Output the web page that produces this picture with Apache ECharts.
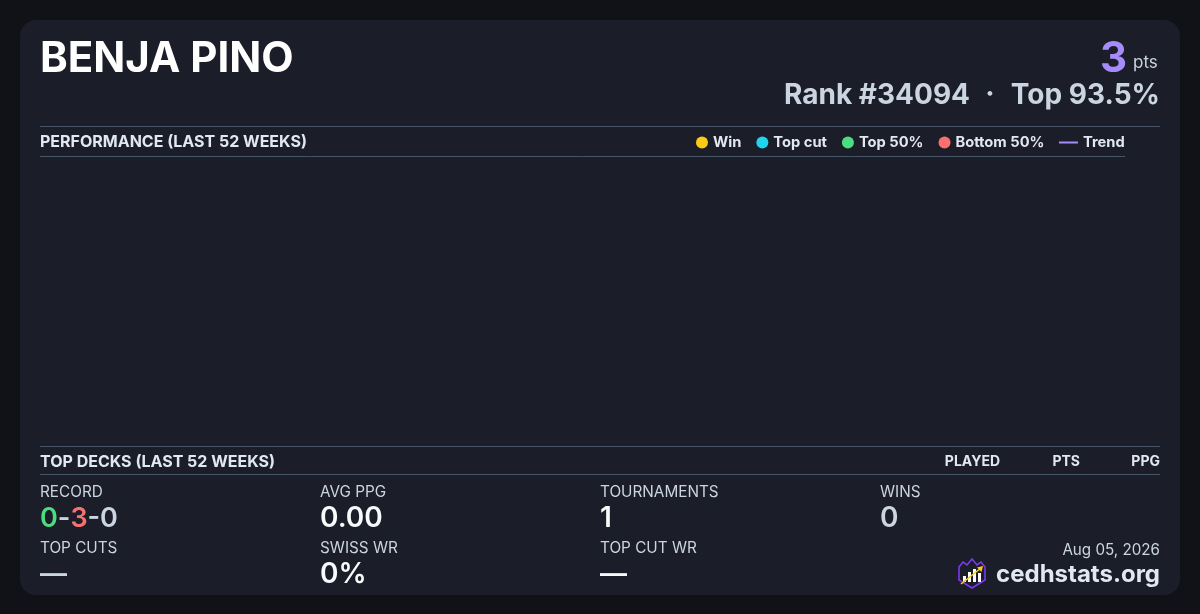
<!DOCTYPE html>
<html>
<head>
<meta charset="utf-8">
<script src="https://cdn.jsdelivr.net/npm/echarts@6/dist/echarts.min.js"></script>
<style>
html,body{margin:0;padding:0;background:#111217;}
#c{width:1200px;height:614px;}
</style>
</head>
<body>
<div id="c"></div>
<script>
// ---- data ----
const playerName = 'BENJA PINO';
const points = 3;
const rank = 34094;
const topPercent = '93.5%';
const legendCategories = ['Win', 'Top cut', 'Top 50%', 'Bottom 50%'];
const categoryColors = ['#facc15', '#22d3ee', '#4ade80', '#f87171'];
const trendColor = '#a78bfa';
const winPoints = [];
const topCutPoints = [];
const top50Points = [];
const bottom50Points = [];
const trendPoints = [];
const deckColumns = ['PLAYED', 'PTS', 'PPG'];
const recordWins = 0, recordLosses = 3, recordDraws = 0;
const statLabels = ['RECORD', 'AVG PPG', 'TOURNAMENTS', 'WINS', 'TOP CUTS', 'SWISS WR', 'TOP CUT WR'];
const avgPpg = '0.00';
const tournaments = '1';
const wins = '0';
const topCuts = '—';
const swissWr = '0%';
const topCutWr = '—';
const dateText = 'Aug 05, 2026';
const siteText = 'cedhstats.org';

const FONT = 'Inter, "Noto Sans", sans-serif';
const LINE = '#475569';
const LIGHT = '#e2e8f0';
const GRAY = '#cbd5e1';
const WHITE = '#f8fafc';

const chart = echarts.init(document.getElementById('c'), null, {renderer: 'canvas'});

function txt(x, y, text, size, weight, color, align) {
  return {type: 'text', x: x, y: y, silent: true,
    style: {text: text, font: weight + ' ' + size + 'px ' + FONT, fill: color,
      align: align || 'left', verticalAlign: 'middle'}};
}
function hline(x1, x2, y) {
  return {type: 'line', silent: true, shape: {x1: x1, y1: y, x2: x2, y2: y},
    style: {stroke: LINE, lineWidth: 1}};
}

const graphics = [
  {type: 'rect', z: -10, silent: true, shape: {x: 20, y: 20, width: 1160, height: 575, r: 16}, style: {fill: '#1b1d29'}},
  txt(40, 59, playerName, 42, 700, '#ffffff'),
  txt(1127, 59, String(points), 42, 700, trendColor, 'right'),
  txt(1133, 63, 'pts', 17, 400, GRAY),
  txt(1160, 96, 'Top ' + topPercent, 28, 700, GRAY, 'right'),
  txt(990, 95, '·', 28, 700, GRAY, 'center'),
  txt(970, 96, 'Rank #' + rank, 28, 700, GRAY, 'right'),
  hline(40, 1160, 126.5),
  txt(40, 142, 'PERFORMANCE (LAST 52 WEEKS)', 16, 700, LIGHT),
  hline(40, 1125, 156.5),
  hline(40, 1160, 446.5),
  txt(40, 462, 'TOP DECKS (LAST 52 WEEKS)', 16, 700, LIGHT),
  txt(1000, 462, deckColumns[0], 14, 700, LIGHT, 'right'),
  txt(1080, 462, deckColumns[1], 14, 700, LIGHT, 'right'),
  txt(1160, 462, deckColumns[2], 14, 700, LIGHT, 'right'),
  hline(40, 1160, 474.5),
  txt(40, 492, statLabels[0], 15.3, 400, GRAY),
  txt(320, 492, statLabels[1], 15.3, 400, GRAY),
  txt(600, 492, statLabels[2], 15.3, 400, GRAY),
  txt(880, 492, statLabels[3], 15.3, 400, GRAY),
  {type: 'text', x: 40, y: 519, silent: true, style: {
    text: '{g|' + recordWins + '}{n|-}{r|' + recordLosses + '}{n|-' + recordDraws + '}',
    verticalAlign: 'middle', font: '600 27px ' + FONT,
    rich: {
      g: {fill: '#4ade80', font: '600 27px ' + FONT},
      r: {fill: '#f87171', font: '600 27px ' + FONT},
      n: {fill: GRAY, font: '600 27px ' + FONT}
    }}},
  txt(320, 519, avgPpg, 28, 600, WHITE),
  txt(600, 519, tournaments, 28, 600, WHITE),
  txt(880, 519, wins, 28, 600, GRAY),
  txt(40, 548, statLabels[4], 15.3, 400, GRAY),
  txt(320, 548, statLabels[5], 15.3, 400, GRAY),
  txt(600, 548, statLabels[6], 15.3, 400, GRAY),
  txt(40, 575, topCuts, 27, 600, GRAY),
  txt(320, 575, swissWr, 28, 600, WHITE),
  txt(600, 575, topCutWr, 27, 600, WHITE),
  txt(1160, 550, dateText, 15.2, 400, GRAY, 'right'),
  txt(1160, 575, siteText, 24, 700, LIGHT, 'right'),
  // logo
  {type: 'group', silent: true, children: [
    {type: 'polygon', shape: {points: [[959,567],[963,562],[967,565],[972,559],[977,565],[981,562],[985,567],[985,580],[972,588],[959,580]]},
      style: {fill: '#1b1d29', stroke: '#7c3aed', lineWidth: 1.6}},
    {type: 'rect', shape: {x: 963, y: 576, width: 3, height: 6}, style: {fill: '#ffffff'}},
    {type: 'rect', shape: {x: 968, y: 572, width: 3, height: 10}, style: {fill: '#ffffff'}},
    {type: 'rect', shape: {x: 973, y: 569, width: 3, height: 13}, style: {fill: '#ffffff'}},
    {type: 'rect', shape: {x: 978, y: 573, width: 3, height: 9}, style: {fill: '#ffffff'}},
    {type: 'line', shape: {x1: 961, y1: 584, x2: 981, y2: 568}, style: {stroke: '#facc15', lineWidth: 1.6}},
    {type: 'polygon', shape: {points: [[983,566],[977,567.5],[981.5,572]]}, style: {fill: '#facc15'}}
  ]}
];

const legendText = {color: LIGHT, fontFamily: FONT, fontSize: 14.7, fontWeight: 700};

const option = {
  backgroundColor: '#111217',
  animation: false,
  grid: {left: 40, right: 75, top: 160, bottom: 170},
  xAxis: {type: 'value', show: false, min: 0, max: 52},
  yAxis: {type: 'value', show: false, min: 0, max: 10},
  legend: [
    {data: legendCategories, left: 696, top: 135, padding: 0, itemWidth: 12, itemHeight: 12, itemGap: 15,
      icon: 'circle', textStyle: legendText, selectedMode: false},
    {data: ['Trend'], left: 1059, top: 135, padding: 0, itemWidth: 19, itemHeight: 12,
      icon: 'path://M0,0H19V2H0Z', textStyle: legendText, selectedMode: false}
  ],
  series: [
    {name: legendCategories[0], type: 'scatter', data: winPoints, itemStyle: {color: categoryColors[0], opacity: 1}},
    {name: legendCategories[1], type: 'scatter', data: topCutPoints, itemStyle: {color: categoryColors[1], opacity: 1}},
    {name: legendCategories[2], type: 'scatter', data: top50Points, itemStyle: {color: categoryColors[2], opacity: 1}},
    {name: legendCategories[3], type: 'scatter', data: bottom50Points, itemStyle: {color: categoryColors[3], opacity: 1}},
    {name: 'Trend', type: 'line', data: trendPoints, showSymbol: false, itemStyle: {color: trendColor}, lineStyle: {color: trendColor, width: 2}}
  ],
  graphic: graphics
};
chart.setOption(option);
</script>
</body>
</html>
